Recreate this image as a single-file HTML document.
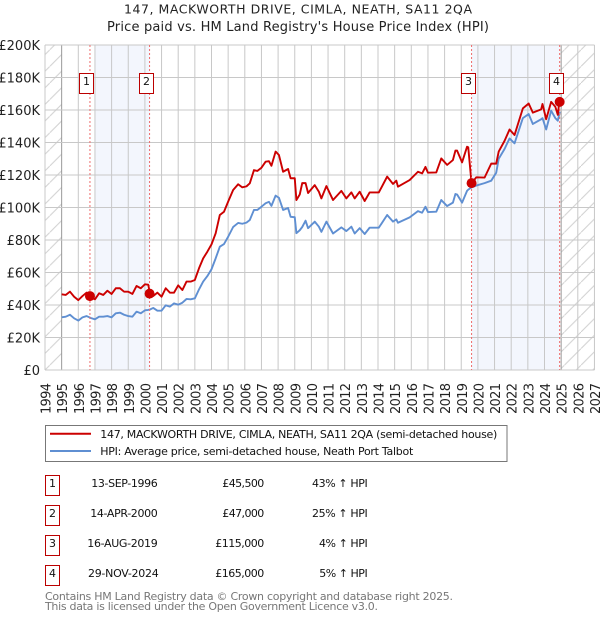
<!DOCTYPE html>
<html>
<head>
<meta charset="utf-8">
<title>147, MACKWORTH DRIVE, CIMLA, NEATH, SA11 2QA</title>
<style>
html,body{margin:0;padding:0;background:#fff;width:600px;height:620px;overflow:hidden}
svg{display:block}
text{font-family:"DejaVu Sans","Liberation Sans",sans-serif;fill:#222}
.t{font-size:12.5px}
.t2{font-size:13px}
.tick{font-size:13px}
.row{font-size:11px;fill:#111}
.foot{font-size:11px;fill:#777}
</style>
</head>
<body>
<svg id="chart" xmlns="http://www.w3.org/2000/svg" width="600" height="620" viewBox="0 0 600 620">
<defs>
<pattern id="hatch" patternUnits="userSpaceOnUse" width="16.6" height="16.6">
<line x1="0" y1="16.6" x2="16.6" y2="0" stroke="#cfcfcf" stroke-width="1"/>
</pattern>
</defs>
<text class="t" x="124" y="13.5" textLength="348">147, MACKWORTH DRIVE, CIMLA, NEATH, SA11 2QA</text>
<text class="t2" x="107" y="31" textLength="382">Price paid vs. HM Land Registry's House Price Index (HPI)</text>
<g id="bands"></g>
<g id="grid"></g>
<g id="xticks"></g>
<g id="yticks"></g>
<g id="series"></g>
<g id="sales"></g>

<g>
<rect x="45.5" y="425.5" width="461.5" height="36" fill="#fff" stroke="#777" stroke-width="1"/>
<line x1="50" y1="433.7" x2="91" y2="433.7" stroke="#cc0000" stroke-width="2"/>
<text class="row" x="100.3" y="438" textLength="397">147, MACKWORTH DRIVE, CIMLA, NEATH, SA11 2QA (semi-detached house)</text>
<line x1="50" y1="451" x2="91" y2="451" stroke="#5f8fd2" stroke-width="2"/>
<text class="row" x="100.3" y="455" textLength="313">HPI: Average price, semi-detached house, Neath Port Talbot</text>
</g>

<g>
<g>
<rect x="45.5" y="475.5" width="14" height="20" fill="#fff" stroke="#bb0000"/>
<text class="row" x="52.5" y="487" text-anchor="middle">1</text>
<text class="row" x="91.3" y="487" textLength="66.4">13-SEP-1996</text>
<text class="row" x="222.3" y="487" textLength="42">£45,500</text>
<text class="row" x="312" y="487" textLength="55.7">43% ↑ HPI</text>
</g>
<g>
<rect x="45.5" y="505.5" width="14" height="20" fill="#fff" stroke="#bb0000"/>
<text class="row" x="52.5" y="517" text-anchor="middle">2</text>
<text class="row" x="90.3" y="517" textLength="67.4">14-APR-2000</text>
<text class="row" x="222.3" y="517" textLength="42">£47,000</text>
<text class="row" x="312" y="517" textLength="55.7">25% ↑ HPI</text>
</g>
<g>
<rect x="45.5" y="535.5" width="14" height="20" fill="#fff" stroke="#bb0000"/>
<text class="row" x="52.5" y="547" text-anchor="middle">3</text>
<text class="row" x="87.3" y="547" textLength="70.4">16-AUG-2019</text>
<text class="row" x="215.3" y="547" textLength="49">£115,000</text>
<text class="row" x="319" y="547" textLength="48.7">4% ↑ HPI</text>
</g>
<g>
<rect x="45.5" y="565.5" width="14" height="20" fill="#fff" stroke="#bb0000"/>
<text class="row" x="52.5" y="577" text-anchor="middle">4</text>
<text class="row" x="88" y="577" textLength="70.7">29-NOV-2024</text>
<text class="row" x="215.3" y="577" textLength="49">£165,000</text>
<text class="row" x="319.3" y="577" textLength="48.4">5% ↑ HPI</text>
</g>
</g>
<text class="foot" x="45" y="600" textLength="408">Contains HM Land Registry data © Crown copyright and database right 2025.</text>
<text class="foot" x="45" y="610" textLength="333">This data is licensed under the Open Government Licence v3.0.</text>
</svg>
<script>
const yearTicks = [1994,1995,1996,1997,1998,1999,2000,2001,2002,2003,2004,2005,2006,2007,2008,2009,2010,2011,2012,2013,2014,2015,2016,2017,2018,2019,2020,2021,2022,2023,2024,2025,2026,2027];
const valueTicks = [0,20,40,60,80,100,120,140,160,180,200];
const valueTickLabels = ["£0","£20K","£40K","£60K","£80K","£100K","£120K","£140K","£160K","£180K","£200K"];
const dates = [1995,1995.25,1995.5,1995.75,1996,1996.25,1996.5,1996.75,1997,1997.25,1997.5,1997.75,1998,1998.25,1998.5,1998.75,1999,1999.25,1999.5,1999.75,2000,2000.2,2000.32,2000.5,2000.75,2001,2001.25,2001.5,2001.75,2002,2002.25,2002.5,2002.75,2003,2003.25,2003.5,2003.75,2004,2004.25,2004.5,2004.75,2005,2005.3,2005.6,2005.85,2006.1,2006.3,2006.55,2006.75,2007,2007.25,2007.45,2007.6,2007.85,2008.05,2008.3,2008.6,2008.75,2009,2009.1,2009.3,2009.45,2009.65,2009.8,2010.2,2010.45,2010.6,2010.9,2011.3,2011.8,2012.1,2012.4,2012.6,2012.9,2013.2,2013.5,2014.05,2014.55,2014.9,2015.1,2015.2,2015.9,2016.4,2016.65,2016.85,2017,2017.5,2017.8,2018.15,2018.5,2018.65,2018.75,2019.05,2019.35,2019.42,2019.62,2019.9,2020.4,2020.8,2021.1,2021.25,2021.6,2021.9,2022.2,2022.7,2023.05,2023.3,2023.8,2023.88,2024.1,2024.4,2024.65,2024.8,2024.92];
const hpiValues = [32.4,32.8,34,31.8,30.4,32.4,33.2,32,31.2,32.8,32.8,33.2,32.4,34.9,35.3,34,33.2,32.8,35.9,34.9,36.7,37,37.3,38.2,36.5,36.5,39.8,39,41,40.2,41.4,43.7,43.5,44.1,49.6,54.4,57.8,62,68.7,75.9,77.5,82,88,90.5,90,90.7,92.3,98.5,98.5,100.5,102.6,103.5,101,107.3,106,98.5,99.7,94.3,94,84.2,86,88,91.9,87.3,91.3,88.2,85,91.3,84,87.8,85.5,88.2,84,87.3,83.7,87.6,87.6,95.4,91.3,92.7,90.6,93.9,97.8,96.8,100.5,97.2,97.4,104.6,100.9,103,108.3,108,103,110.3,111,112.4,113.5,115,116.5,121.4,130,136,142.5,139.5,155,157.5,151.4,154.3,155,148,159.6,155,153.4,159];
const paidValues = [46.6,46.2,48.2,45.1,43,45.5,47.6,45.1,43.5,47.2,46.2,48.8,46.8,50.3,50.3,48.2,48.2,46.8,51.7,50.3,52.7,52.5,46.5,45.5,47.6,45.1,50.3,47.6,47.6,52.1,49.2,54.4,54.4,55.4,62.6,68.7,72.8,77.3,84.1,95.4,97.4,103.6,110.8,114.3,112.4,113,114.9,123,122.5,124.5,128.2,128.5,125.7,134.4,132.3,122,123.7,118,118,104.6,108,115,115,108.9,113.8,109.7,105.6,113.2,104.6,110.2,105.6,109.3,105.6,109.7,104,109.3,109.3,119,114.5,116.5,112.8,116.9,122,121,125,121.4,121.6,130.2,126.2,129.2,135,135,127.8,137.4,137,114.8,118.6,118.4,127,127,134.4,141,148,144.6,161,164,158.4,160.4,163.7,154.3,165,162,157,167.8];
const saleDates = [1996.7,2000.28,2019.62,2024.91];
const salePrices = [45.5,47,115,165];
const saleLabels = ["1","2","3","4"];

const NS = "http://www.w3.org/2000/svg";
function xAxis(year){ return 45 + (year - 1994) * 16.65; }
function yAxis(value){ return 370 - value * 1.625; }
function make(tag, parent, attrs){
  const el = document.createElementNS(NS, tag);
  for (const k in attrs) el.setAttribute(k, attrs[k]);
  parent.appendChild(el);
  return el;
}
const first = yearTicks[0], last = yearTicks[yearTicks.length - 1];
const top200 = valueTicks[valueTicks.length - 1];
const bands = document.getElementById("bands");
const plotLeft = xAxis(first), plotRight = xAxis(last), plotTop = yAxis(top200), plotBottom = yAxis(0);

const hatchLeft = make("rect", bands, {x:plotLeft, y:plotTop, width:xAxis(1995)-plotLeft, height:plotBottom-plotTop, fill:"url(#hatch)"});


const hatchRight = make("rect", bands, {x:xAxis(2025), y:plotTop, width:plotRight-xAxis(2025), height:plotBottom-plotTop, fill:"url(#hatch)"});


const bandA = make("rect", bands, {x:xAxis(1997), y:plotTop, width:xAxis(saleDates[1])-xAxis(1997), height:plotBottom-plotTop, fill:"#f3f6fd"});


const bandB = make("rect", bands, {x:xAxis(saleDates[2]), y:plotTop, width:xAxis(saleDates[3])-xAxis(saleDates[2]), height:plotBottom-plotTop, fill:"#f3f6fd"});



const grid = document.getElementById("grid");
yearTicks.forEach(function(yr){
  const special = (yr === 1995 || yr === 2025);
  const gl = make("line", grid, {x1:xAxis(yr), x2:xAxis(yr), y1:plotTop, y2:plotBottom, stroke: special ? "#999" : "#c8c8c8", "stroke-width":1});
  
  
});
valueTicks.forEach(function(v){
  const gl = make("line", grid, {x1:plotLeft, x2:plotRight, y1:yAxis(v), y2:yAxis(v), stroke:"#c8c8c8", "stroke-width":1});
  
  
});

const xticks = document.getElementById("xticks");
yearTicks.forEach(function(yr){
  const px = xAxis(yr) + 5.5;
  const t = make("text", xticks, {class:"tick", x:px, y:383, "text-anchor":"end", textLength:31, transform:"rotate(-90 " + px + " 383)"});
  
  
  t.textContent = String(yr);
});
const yticks = document.getElementById("yticks");
valueTicks.forEach(function(v, i){
  const t = make("text", yticks, {class:"tick", x:40, y:yAxis(v)+5, "text-anchor":"end"});
  
  
  t.textContent = valueTickLabels[i];
});

function linePath(values){
  return values.map(function(v, i){
    return (i ? "L" : "M") + xAxis(dates[i]).toFixed(2) + " " + yAxis(v).toFixed(2);
  }).join("");
}
const series = document.getElementById("series");
const hpiLine = make("path", series, {d:linePath(hpiValues), fill:"none", stroke:"#5f8fd2", "stroke-width":1.9, "stroke-linejoin":"round"});


const paidLine = make("path", series, {d:linePath(paidValues), fill:"none", stroke:"#cc0000", "stroke-width":1.9, "stroke-linejoin":"round"});



const sales = document.getElementById("sales");
saleDates.forEach(function(d, i){
  const sx = xAxis(d), sy = yAxis(salePrices[i]);
  const v = make("line", sales, {x1:sx, x2:sx, y1:plotTop, y2:plotBottom, stroke:"#ee6b6b", "stroke-width":1, "stroke-dasharray":"2 2"});
  
  
  const dot = make("circle", sales, {cx:sx, cy:sy, r:5, fill:"#cc0000"});
  
  
  const box = make("rect", sales, {x:Math.round(sx-3)-7.5, y:73.5, width:14, height:20, fill:"#fff", stroke:"#bb0000", "stroke-width":1});
  
  
  const lab = make("text", sales, {class:"row", x:Math.round(sx-3)-0.5, y:85, "text-anchor":"middle"});
  
  
  lab.textContent = saleLabels[i];
});
</script>
</body>
</html>
